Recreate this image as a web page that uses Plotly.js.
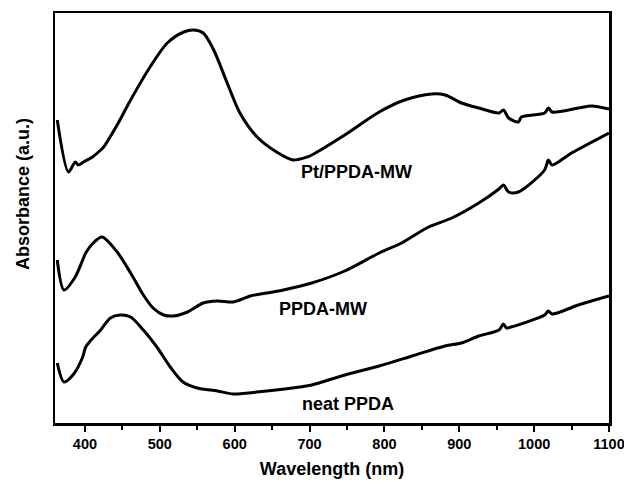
<!DOCTYPE html>
<html><head><meta charset="utf-8">
<script src="https://cdn.plot.ly/plotly-3.0.1.min.js"></script>
<style>body{margin:0;background:#fff}#c{width:624px;height:486px}</style>
</head><body><div id="c"></div>
<script>
// Wavelength (nm) and absorbance (a.u., offset curves)
const ptX = [363,378,387,391,398,410,421,425,443,461,487,510,532,545,558,572,590,607,630,656,678,697,703,747,793,827,863,881,903,926,953,959,966,979,983,1014,1019,1024,1059,1077,1100];
const ptY = [303,251,261,258,261,266,273,276,298,323,356,380,391,393,390,373,340,310,286,271,263,266,268,288,311,323,329,328,320,315,310,313,305,301,306,310,315,311,315,317,314];
const mwX = [363,372,387,397,401,411,423,443,461,478,491,505,518,537,558,577,598,621,643,665,703,747,793,823,859,890,926,953,959,966,979,1014,1019,1024,1050,1100];
const mwY = [163,133,146,163,170,180,186,171,150,128,115,108,107,111,120,122,121,127,130,133,140,152,170,180,196,205,220,234,238,231,231,253,263,258,270,290];
const neatX = [363,372,385,397,401,407,421,434,447,461,478,497,514,531,550,577,598,643,687,703,747,793,837,881,903,926,953,959,963,969,1014,1019,1024,1059,1100];
const neatY = [60,41,49,66,76,82,93,105,108,106,93,75,56,41,35,32,29,32,36,38,48,57,67,77,80,87,93,99,95,96,108,112,109,118,127];
const labels = ["Pt/PPDA-MW","PPDA-MW","neat PPDA"];
const labelX = [763,718,751];
const labelY = [251,114,19];

const line = {color:'#000', width:3, shape:'spline', smoothing:0.8};
const data = [
  {x:ptX, y:ptY, mode:'lines', line:line, hoverinfo:'skip'},
  {x:mwX, y:mwY, mode:'lines', line:line, hoverinfo:'skip'},
  {x:neatX, y:neatY, mode:'lines', line:line, hoverinfo:'skip'}
];
const fam = 'Liberation Sans, Arial, sans-serif';
const ann = labels.map((t,i)=>({x:labelX[i], y:labelY[i], text:'<b>'+t+'</b>', showarrow:false,
    font:{family:fam, size:18, color:'#000'}, xanchor:'center', yanchor:'middle'}));
ann.push({xref:'paper', yref:'paper', x:-0.058, y:0.558, text:'<b>Absorbance (a.u.)</b>', textangle:-90,
    showarrow:false, font:{family:fam, size:18, color:'#000'}, xanchor:'center', yanchor:'middle'});
const layout = {
  width:624, height:486,
  margin:{l:55, r:15, t:13, b:63},
  showlegend:false,
  paper_bgcolor:'#fff', plot_bgcolor:'#fff',
  font:{family:fam, color:'#000'},
  xaxis:{
    range:[360,1100], tickvals:[400,500,600,700,800,900,1000,1100],
    ticks:'outside', ticklen:6, tickwidth:2, tickcolor:'#000',
    minor:{dtick:50, tick0:350, ticks:'outside', ticklen:4, tickwidth:2, tickcolor:'#000'},
    showline:true, linewidth:2.5, linecolor:'#000', mirror:true,
    showgrid:false, zeroline:false, ticklabeloverflow:'allow',
    tickfont:{family:fam, size:14.5, color:'#000', weight:'bold'},
    title:{text:'<b>Wavelength (nm)</b>', font:{family:fam, size:18, color:'#000'}, standoff:12}
  },
  yaxis:{
    range:[0,410], showticklabels:false, ticks:'',
    showline:true, linewidth:2.5, linecolor:'#000', mirror:true,
    showgrid:false, zeroline:false
  },
  annotations: ann
};
Plotly.newPlot('c', data, layout, {staticPlot:true});
</script></body></html>
